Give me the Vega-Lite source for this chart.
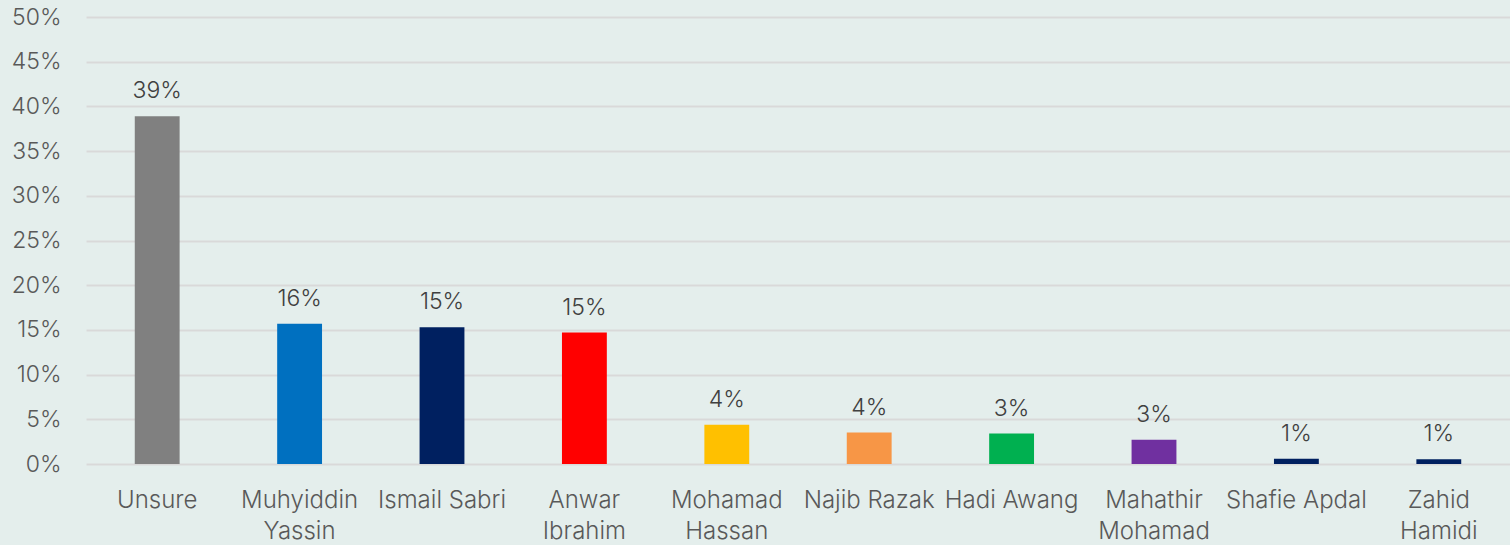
{
  "$schema": "https://vega.github.io/schema/vega-lite/v6.json",
  "width": 1424,
  "height": 447,
  "autosize": {"type": "none"},
  "padding": {"left": 86, "top": 17, "right": 0, "bottom": 81},
  "background": "#e4eeec",
  "config": {
    "view": {"stroke": null},
    "font": "Inter",
    "axis": {"labelFont": "Inter", "labelColor": "#595959", "labelFontSize": 23, "labelFontWeight": 300}
  },
  "data": {
    "values": [
      {"name": "Unsure", "value": 0.389, "color": "#808080"},
      {"name": "Muhyiddin Yassin", "value": 0.157, "color": "#0070c0"},
      {"name": "Ismail Sabri", "value": 0.153, "color": "#002060"},
      {"name": "Anwar Ibrahim", "value": 0.147, "color": "#ff0000"},
      {"name": "Mohamad Hassan", "value": 0.044, "color": "#ffc000"},
      {"name": "Najib Razak", "value": 0.0352, "color": "#f79646"},
      {"name": "Hadi Awang", "value": 0.034, "color": "#00b050"},
      {"name": "Mahathir Mohamad", "value": 0.027, "color": "#7030a0"},
      {"name": "Shafie Apdal", "value": 0.006, "color": "#002060"},
      {"name": "Zahid Hamidi", "value": 0.0052, "color": "#002060"}
    ]
  },
  "encoding": {
    "x": {
      "field": "name",
      "type": "nominal",
      "sort": null,
      "scale": {"paddingInner": 0.685, "paddingOuter": 0.3425},
      "axis": {
        "title": null,
        "domain": false,
        "ticks": false,
        "labelAngle": 0,
        "labelFontSize": 24,
        "labelPadding": 24,
        "labelLineHeight": 31,
        "labelExpr": "indexof(['Muhyiddin Yassin','Anwar Ibrahim','Mohamad Hassan','Mahathir Mohamad','Zahid Hamidi'], datum.value) >= 0 ? split(datum.value, ' ') : datum.value"
      }
    },
    "y": {
      "field": "value",
      "type": "quantitative",
      "scale": {"domain": [0, 0.5], "nice": false},
      "axis": {
        "title": null,
        "domain": false,
        "ticks": false,
        "values": [0, 0.05, 0.1, 0.15, 0.2, 0.25, 0.3, 0.35, 0.4, 0.45, 0.5],
        "format": ".0%",
        "labelPadding": 25,
        "grid": true,
        "gridColor": "#d9d9d9",
        "gridWidth": 2
      }
    }
  },
  "layer": [
    {
      "mark": {"type": "bar"},
      "encoding": {"color": {"field": "color", "type": "nominal", "scale": null}}
    },
    {
      "mark": {"type": "text", "baseline": "bottom", "dy": -13, "fontSize": 23, "fontWeight": 300, "color": "#404040", "font": "Inter"},
      "encoding": {"text": {"field": "value", "type": "quantitative", "format": ".0%"}}
    }
  ]
}
